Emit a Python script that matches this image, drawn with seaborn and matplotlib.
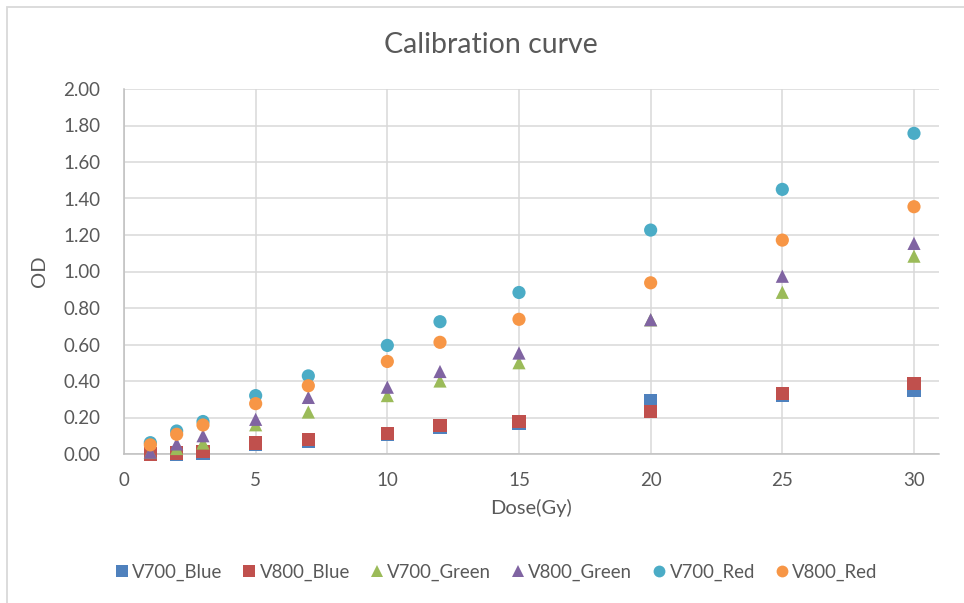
import matplotlib
matplotlib.use("Agg")
import matplotlib.pyplot as plt
import seaborn as sns
import pandas as pd
from matplotlib.patches import Rectangle

# Dose points (Gy)
dose = [1, 2, 3, 5, 7, 10, 12, 15, 20, 25, 30]

# Optical density per film / colour channel
v700_blue = [0.00, 0.00, 0.005, 0.05, 0.07, 0.105, 0.145, 0.17, 0.29, 0.32, 0.35]
v800_blue = [0.00, 0.005, 0.013, 0.06, 0.08, 0.114, 0.154, 0.178, 0.232, 0.33, 0.385]
v700_green = [0.01, 0.03, 0.06, 0.16, 0.23, 0.32, 0.40, 0.50, 0.735, 0.886, 1.084]
v800_green = [0.01, 0.055, 0.10, 0.19, 0.31, 0.366, 0.452, 0.553, 0.736, 0.974, 1.154]
v700_red = [0.062, 0.126, 0.178, 0.32, 0.428, 0.595, 0.725, 0.885, 1.227, 1.45, 1.757]
v800_red = [0.05, 0.108, 0.159, 0.276, 0.374, 0.507, 0.612, 0.738, 0.938, 1.172, 1.355]

series_names = ["V700_Blue", "V800_Blue", "V700_Green", "V800_Green", "V700_Red", "V800_Red"]
series_values = [v700_blue, v800_blue, v700_green, v800_green, v700_red, v800_red]

colors = {
    "V700_Blue": "#4F81BD",
    "V800_Blue": "#C0504D",
    "V700_Green": "#9BBB59",
    "V800_Green": "#8064A2",
    "V700_Red": "#4BACC6",
    "V800_Red": "#F79646",
}
markers = {
    "V700_Blue": "s",
    "V800_Blue": "s",
    "V700_Green": "^",
    "V800_Green": "^",
    "V700_Red": "o",
    "V800_Red": "o",
}

frames = []
for name, vals in zip(series_names, series_values):
    frames.append(pd.DataFrame({"Dose": dose, "OD": vals, "Series": name}))
df = pd.concat(frames, ignore_index=True)

sns.set_theme(style="white")
plt.rcParams["font.family"] = ["Lato", "DejaVu Sans"]

text_color = "#595959"
grid_color = "#D9D9D9"
axis_color = "#BFBFBF"

fig = plt.figure(figsize=(9.64, 6.03), dpi=100)
fig.patch.set_facecolor("white")
ax = fig.add_axes([124 / 964, 1 - 454 / 603, (939 - 124) / 964, (454 - 89) / 603])

sns.scatterplot(
    data=df, x="Dose", y="OD", hue="Series", style="Series",
    palette=colors, markers=markers, hue_order=series_names, style_order=series_names,
    s=90, linewidth=0, ax=ax, zorder=3, clip_on=False,
)

ax.set_xlim(0, 30.95)
ax.set_ylim(0, 2.0)
ax.set_xticks([0, 5, 10, 15, 20, 25, 30])
ax.set_yticks([i * 0.2 for i in range(11)])
ax.set_yticklabels([f"{i * 0.2:.2f}" for i in range(11)])

ax.grid(True, color=grid_color, linewidth=1.1)
ax.set_axisbelow(True)
for side in ["top", "right"]:
    ax.spines[side].set_visible(False)
ax.spines["left"].set_color(axis_color)
ax.spines["bottom"].set_color(axis_color)
ax.spines["left"].set_linewidth(1.1)
ax.spines["bottom"].set_linewidth(1.1)

ax.tick_params(axis="both", length=0, labelsize=13.5, colors=text_color)
ax.tick_params(axis="y", pad=17)
ax.tick_params(axis="x", pad=13)

ax.set_xlabel("Dose(Gy)", fontsize=14.5, color=text_color, labelpad=7)
ax.set_ylabel("OD", fontsize=14.5, color=text_color, labelpad=11)

fig.text(491 / 964, 1 - 45 / 603, "Calibration curve", ha="center", va="center",
         fontsize=20.5, color=text_color)

# Legend below the plot area
handles, labels = ax.get_legend_handles_labels()
if ax.legend_:
    ax.legend_.remove()
leg = fig.legend(handles, labels, loc="center", bbox_to_anchor=(495 / 964, 1 - 572 / 603),
                 ncol=6, frameon=False, fontsize=13.4, handletextpad=0.05,
                 columnspacing=0.95, markerscale=1.0, handlelength=1.0)
for t in leg.get_texts():
    t.set_color(text_color)
for h in leg.legend_handles:
    try:
        h.set_markersize(8.5)
        h.set_markeredgewidth(0)
    except AttributeError:
        pass

# Chart-area outline
fig.patches.append(Rectangle((7 / 964, -0.1), 1.0, 1 - 7 / 603 + 0.1, transform=fig.transFigure,
                             fill=False, edgecolor=grid_color, linewidth=1.3))

fig.savefig("out.png", dpi=100, facecolor="white")
